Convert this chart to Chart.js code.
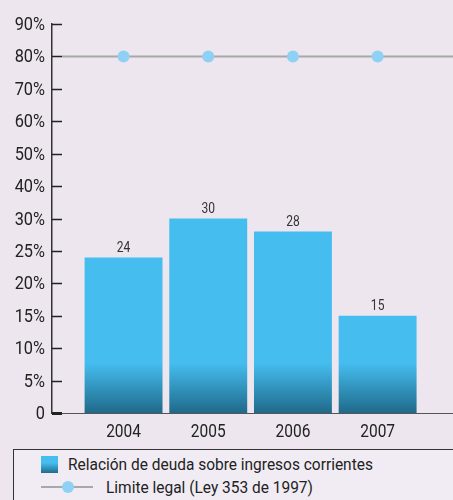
<!DOCTYPE html>
<html>
<head>
<meta charset="utf-8">
<script src="https://cdn.jsdelivr.net/npm/chart.js@4.4.0/dist/chart.umd.min.js"></script>
<style>
  body { margin: 0; background: #ede6ef; }
  #wrap { position: relative; width: 453px; height: 500px; overflow: hidden; }
  #box { position: absolute; left: 0; top: 0; width: 453px; height: 500px; }
  #legend {
    position: absolute; left: 13px; top: 449px; width: 460px; height: 60px;
    border: 1px solid #333; background: #f1ecf3;
    font-family: Roboto, "Liberation Sans", sans-serif;
    font-size: 17px; color: #222;
  }
  .item { position: absolute; white-space: nowrap; line-height: 20px;
          transform: scaleX(0.91); transform-origin: left center; }
  .sq { position: absolute; left: 27px; top: 6px; width: 17px; height: 17px;
        background: linear-gradient(#45bdef 0%, #45bdef 40%, #1f6c8c 100%); }
  .ln { position: absolute; left: 27px; top: 36px; width: 52px; height: 2px; background: #a8a8a8; }
  .dot { position: absolute; left: 48px; top: 31px; width: 12px; height: 12px; border-radius: 50%; background: #8fd1f5; }
</style>
</head>
<body>
<div id="wrap">
  <div id="box"><canvas id="debtChart"></canvas></div>
  <div id="legend">
    <div class="sq"></div>
    <div class="item" style="left:54px; top:4px;">Relación de deuda sobre ingresos corrientes</div>
    <div class="ln"></div><div class="dot"></div>
    <div class="item" style="left:92px; top:27px;">Limite legal (Ley 353 de 1997)</div>
  </div>
</div>
<script>
const years = ["2004", "2005", "2006", "2007"];
const debtRatio = [24, 30, 28, 15];
const legalLimit = [80, 80, 80, 80];
// the % axis is evenly spaced but not linear: 5-steps up to 30, then 10-steps
const yTickValues = [0, 5, 10, 15, 20, 25, 30, 40, 50, 60, 70, 80, 90];

const FONT = 'Roboto, "Liberation Sans", sans-serif';
const SQUEEZE = 0.86; // original uses a condensed face

// piecewise scale: each tick interval gets the same height
class PiecewiseScale extends Chart.LinearScale {
  static id = "piecewise";
  static defaults = Chart.LinearScale.defaults;
  toIndex(v) {
    const t = yTickValues;
    if (v <= t[0]) return 0;
    for (let i = 0; i < t.length - 1; i++) {
      if (v <= t[i + 1]) return i + (v - t[i]) / (t[i + 1] - t[i]);
    }
    return t.length - 1;
  }
  getPixelForValue(v) {
    return this.getPixelForDecimal(this.toIndex(v) / (yTickValues.length - 1));
  }
}
Chart.register(PiecewiseScale);

const barGradient = (ctx) => {
  const chart = ctx.chart;
  const area = chart.chartArea;
  if (!area) return "#45bdef";
  const g = chart.ctx.createLinearGradient(0, area.bottom, 0, area.bottom - 50);
  g.addColorStop(0, "#1f6a8a");
  g.addColorStop(1, "#45bdef");
  return g;
};

function squeezedText(c, txt, x, y, align) {
  c.save();
  c.translate(x, y);
  c.scale(SQUEEZE, 1);
  c.textAlign = align;
  c.fillText(txt, 0, 0);
  c.restore();
}

const extrasPlugin = {
  id: "extras",
  beforeDatasetsDraw(chart) {
    const c = chart.ctx, y = chart.scales.y, a = chart.chartArea;
    const py = y.getPixelForValue(legalLimit[0]);
    c.save();
    c.strokeStyle = "#a8a8a8";
    c.lineWidth = 2;
    c.beginPath();
    c.moveTo(a.left + 10, py);
    c.lineTo(a.right, py);
    c.stroke();
    c.restore();
  },
  afterDatasetsDraw(chart) {
    const c = chart.ctx, y = chart.scales.y, x = chart.scales.x, a = chart.chartArea;
    c.save();
    c.fillStyle = "#222";
    c.textBaseline = "middle";
    // y ticks + labels
    c.font = "19px " + FONT;
    y.ticks.forEach((t) => {
      const py = Math.round(y.getPixelForValue(t.value)) + 0.5;
      c.strokeStyle = "#222";
      c.lineWidth = t.value === 0 ? 3 : 1.5;
      c.beginPath();
      c.moveTo(a.left, py);
      c.lineTo(a.left + 10, py);
      c.stroke();
      squeezedText(c, t.value === 0 ? "0" : t.value + "%", a.left - 7, py + 1, "right");
    });
    // x labels
    c.font = "18px " + FONT;
    x.ticks.forEach((t) => {
      squeezedText(c, years[t.value], x.getPixelForValue(t.value), a.bottom + 19, "center");
    });
    // value labels above bars
    const meta = chart.getDatasetMeta(0);
    c.fillStyle = "#333";
    c.font = "14px " + FONT;
    c.textBaseline = "bottom";
    meta.data.forEach((el, i) => {
      squeezedText(c, String(debtRatio[i]), el.x, el.y - 2, "center");
    });
    c.restore();
  },
};

new Chart(document.getElementById("debtChart"), {
  data: {
    datasets: [
      {
        type: "bar",
        label: "Relación de deuda sobre ingresos corrientes",
        data: debtRatio.map((v, i) => ({ x: i, y: v })),
        backgroundColor: barGradient,
        categoryPercentage: 1,
        barPercentage: 0.92,
      },
      {
        type: "line",
        label: "Limite legal (Ley 353 de 1997)",
        data: legalLimit.map((v, i) => ({ x: i, y: v })),
        showLine: false,
        pointRadius: 6,
        pointHoverRadius: 6,
        pointBackgroundColor: "#8fd1f5",
        pointBorderWidth: 0,
      },
    ],
  },
  options: {
    responsive: true,
    maintainAspectRatio: false,
    animation: false,
    layout: { autoPadding: false, padding: { top: 24, right: 0, bottom: 87, left: 0 } },
    scales: {
      x: {
        type: "linear",
        offset: false,
        min: -0.845,
        max: 3.89,
        grid: { display: false, drawTicks: false, offset: false },
        border: { display: true, color: "#555", width: 1 },
        afterBuildTicks: (s) => { s.ticks = years.map((_, i) => ({ value: i })); },
        ticks: { display: false },
      },
      y: {
        type: "piecewise",
        min: 0,
        max: 90,
        grid: { display: false, drawTicks: false },
        border: { display: true, color: "#333", width: 1.5 },
        afterBuildTicks: (s) => { s.ticks = yTickValues.map((v) => ({ value: v })); },
        afterFit: (s) => { s.width = 52; },
        ticks: { display: false },
      },
    },
    plugins: {
      legend: { display: false },
      tooltip: { enabled: false },
    },
  },
  plugins: [extrasPlugin],
});
</script>
</body>
</html>
